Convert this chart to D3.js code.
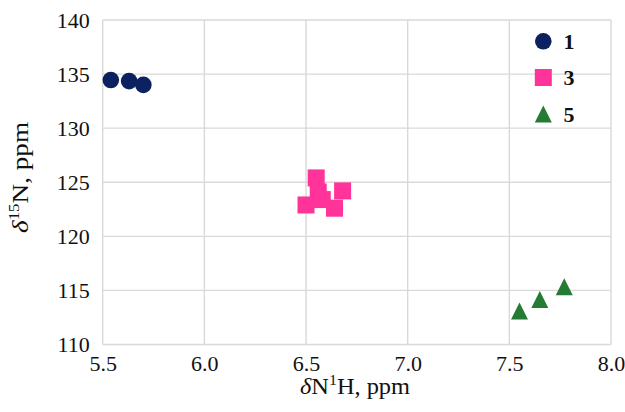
<!DOCTYPE html>
<html>
<head>
<meta charset="utf-8">
<script src="https://cdn.jsdelivr.net/npm/d3@7/dist/d3.min.js"></script>
<style>
  html, body { margin: 0; padding: 0; background: #fff; }
  svg { display: block; }
  text { font-family: "Liberation Serif", "Times New Roman", serif; fill: #111; }
</style>
</head>
<body>
<svg id="chart" width="625" height="412"></svg>
<script>
// ---- data ----
const series1X = [5.54, 5.63, 5.70];
const series1Y = [134.45, 134.35, 134.0];
const series3X = [6.55, 6.68, 6.50, 6.64, 6.56, 6.58];
const series3Y = [125.4, 124.2, 122.9, 122.6, 124.1, 123.4];
const series5X = [7.55, 7.65, 7.77];
const series5Y = [113.1, 114.15, 115.35];
const seriesNames = ["1", "3", "5"];
const xTicks = [5.5, 6.0, 6.5, 7.0, 7.5, 8.0];
const yTicks = [110, 115, 120, 125, 130, 135, 140];

const colors = ["#0b2160", "#ff3399", "#237b34"];

(function () {
const svg = d3.select("#chart");
const pL = 102.7, pR = 611, pT = 20, pB = 344.5;

const x = d3.scaleLinear().domain([5.5, 8.0]).range([pL, pR]);
const y = d3.scaleLinear().domain([110, 140]).range([pB, pT]);

// gridlines
const grid = svg.append("g");
grid.selectAll("line.v").data(xTicks).join("line")
  .attr("x1", d => x(d)).attr("x2", d => x(d))
  .attr("y1", pT).attr("y2", pB)
  .attr("stroke", "#d9d9d9").attr("stroke-width", 1.4);
grid.selectAll("line.h").data(yTicks).join("line")
  .attr("x1", pL).attr("x2", pR)
  .attr("y1", d => y(d)).attr("y2", d => y(d))
  .attr("stroke", "#d9d9d9").attr("stroke-width", 1.4);

// axes (labels)
const xAxis = svg.append("g")
  .attr("transform", `translate(0,${pB})`)
  .call(d3.axisBottom(x).tickValues(xTicks).tickFormat(d3.format(".1f")).tickSize(0).tickPadding(11));
xAxis.select(".domain").remove();
xAxis.selectAll("text").style("font-size", "22px").attr("fill", "#111")
  .style("font-family", '"Liberation Serif", serif');

const yAxis = svg.append("g")
  .attr("transform", `translate(${pL},0)`)
  .call(d3.axisLeft(y).tickValues(yTicks).tickSize(0).tickPadding(13));
yAxis.select(".domain").remove();
yAxis.selectAll("text").style("font-size", "22px").attr("fill", "#111")
  .style("font-family", '"Liberation Serif", serif');

// markers
const circleR = 8.3, sq = 17, triW = 17, triH = 17;
function triPath(cx, cy) {
  return `M${cx},${cy - triH / 2}L${cx + triW / 2},${cy + triH / 2}L${cx - triW / 2},${cy + triH / 2}Z`;
}

const s1 = series1X.map((v, i) => ({ x: v, y: series1Y[i] }));
const s3 = series3X.map((v, i) => ({ x: v, y: series3Y[i] }));
const s5 = series5X.map((v, i) => ({ x: v, y: series5Y[i] }));

svg.append("g").selectAll("circle").data(s1).join("circle")
  .attr("cx", d => x(d.x)).attr("cy", d => y(d.y)).attr("r", circleR)
  .attr("fill", colors[0]);

svg.append("g").selectAll("rect").data(s3).join("rect")
  .attr("x", d => x(d.x) - sq / 2).attr("y", d => y(d.y) - sq / 2)
  .attr("width", sq).attr("height", sq)
  .attr("fill", colors[1]);

svg.append("g").selectAll("path").data(s5).join("path")
  .attr("d", d => triPath(x(d.x), y(d.y)))
  .attr("fill", colors[2]);

// legend
const legend = svg.append("g");
const legY = [41.3, 77.5, 114];
const legX = 543.3;
legend.append("circle").attr("cx", legX).attr("cy", legY[0]).attr("r", circleR).attr("fill", colors[0]);
legend.append("rect").attr("x", legX - sq / 2).attr("y", legY[1] - sq / 2).attr("width", sq).attr("height", sq).attr("fill", colors[1]);
legend.append("path").attr("d", triPath(legX, legY[2])).attr("fill", colors[2]);
legend.selectAll("text").data(seriesNames).join("text")
  .attr("x", 563.5).attr("y", (d, i) => legY[i] + 7.5)
  .style("font-size", "22px").style("font-weight", "bold")
  .text(d => d);

// axis titles
const xt = svg.append("text")
  .attr("x", 355).attr("y", 394)
  .attr("text-anchor", "middle")
  .attr("textLength", 110).attr("lengthAdjust", "spacingAndGlyphs")
  .style("font-size", "23px");
xt.append("tspan").style("font-style", "italic").text("δ");
xt.append("tspan").text("N");
xt.append("tspan").attr("dy", -9).style("font-size", "15px").text("1");
xt.append("tspan").attr("dy", 9).text("H, ppm");

const yt = svg.append("text")
  .attr("transform", `translate(28,177.5) rotate(-90)`)
  .attr("text-anchor", "middle")
  .attr("textLength", 111).attr("lengthAdjust", "spacingAndGlyphs")
  .style("font-size", "24px");
yt.append("tspan").style("font-style", "italic").text("δ");
yt.append("tspan").attr("dy", -9).style("font-size", "15px").text("15");
yt.append("tspan").attr("dy", 9).text("N, ppm");
})();
</script>
</body>
</html>
